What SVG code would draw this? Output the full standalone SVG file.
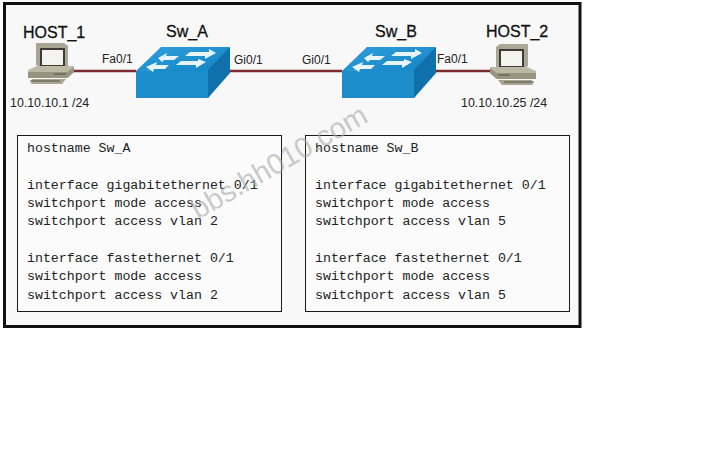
<svg xmlns="http://www.w3.org/2000/svg" width="720" height="450" viewBox="0 0 720 450">
  <style>
    .title { font: 16px "Liberation Sans", Arial, sans-serif; fill: #111; stroke: #111; stroke-width: .3; }
    .port { font: 12px "Liberation Sans", Arial, sans-serif; fill: #222; }
    .addr { font: 12.4px "Liberation Sans", Arial, sans-serif; fill: #222; }
    .cfg { font: 13.25px "Liberation Mono", "Courier New", monospace; fill: #222; }
    .box { fill: #fbfbfb; stroke: #1a1a1a; stroke-width: 1; }
    .link { stroke: #7c2a30; stroke-width: 2.4; fill: none; }
    .mark { font: 29px "Liberation Sans", Arial, sans-serif; fill: #aaa; fill-opacity: .62; }
  </style>
  <defs>
    <linearGradient id="top" x1="0" y1="0" x2="1" y2="1">
      <stop offset="0" stop-color="#2f9fdc"/>
      <stop offset="1" stop-color="#1583c4"/>
    </linearGradient>
    <g id="switch">
      <path d="M0 47 L27 0 L94 0 L94 19 L72 50 L0 50Z" fill="#1a86c4"/>
      <path d="M0 23 L25 -1 L94 -1 L72 22Z" fill="url(#top)"/>
      <path d="M0 23 L72 22 L72 50 L0 50Z" fill="#1c8ccb"/>
      <path d="M72 22 L94 -1 L94 25 L72 50Z" fill="#0f70ab"/>
      <path d="M22 8 L31 3 L30 6 L43 6 L38 10 L28 10 L26 12Z M54 2 L73 2 L73 -1 L80 3 L69 9 L69 6 L49 6Z" fill="#e6f4fb" transform="translate(0 2)"/>
      <path d="M10 17 L21 12 L20 15 L33 15 L29 19 L18 19 L17 22Z M45 11 L62 11 L62 9 L70 12 L60 18 L60 15 L40 15Z" fill="#e6f4fb" transform="translate(0 2)"/>
    </g>
    <g id="pc">
      <path d="M8 0 L36 0 L40 3 L40 24 L12 24 L8 22Z" fill="#a9a695"/>
      <rect x="12" y="5" width="25" height="19" fill="#3d3d35"/>
      <rect x="14" y="7" width="21" height="15" fill="#f4f4ee"/>
      <path d="M0 27 L9 23 L46 23 L46 29 L40 35 L0 35Z" fill="#bcb9a4"/>
      <path d="M0 29 L39 29 L46 24 L46 29 L39 35 L0 35Z" fill="#97947f"/>
      <path d="M4 36 L38 36 L34 41 L3 41Z" fill="#a8a592"/>
      <path d="M2 38 L32 38" stroke="#55544a" stroke-width="1"/>
      <path d="M26 31 L38 31" stroke="#55544a" stroke-width="1"/>
    </g>
  </defs>

  <rect width="720" height="450" fill="#fff"/>
  <rect x="4.5" y="3.5" width="575.5" height="323" fill="#f8f8f8" stroke="#111" stroke-width="3"/>

  <g id="connectors">
    <path class="link" d="M72 71 H136"/>
    <path class="link" d="M230 71 H342"/>
    <path class="link" d="M436 71 H490"/>
  </g>

  <g id="host1">
    <use href="#pc" x="28" y="43"/>
    <text class="title" x="23" y="38">HOST_1</text>
    <text class="addr" x="10" y="107">10.10.10.1 /24</text>
  </g>
  <g id="swa">
    <use href="#switch" x="136" y="48"/>
    <text class="title" x="166" y="37">Sw_A</text>
    <text class="port" x="102" y="63">Fa0/1</text>
    <text class="port" x="234" y="64">Gi0/1</text>
  </g>
  <g id="swb">
    <use href="#switch" x="342" y="48"/>
    <text class="title" x="375" y="37">Sw_B</text>
    <text class="port" x="302" y="64">Gi0/1</text>
    <text class="port" x="437" y="63">Fa0/1</text>
  </g>
  <g id="host2">
    <g transform="translate(536 44) scale(-1 1)"><use href="#pc" x="0" y="0"/></g>
    <text class="title" x="486" y="37">HOST_2</text>
    <text class="addr" x="461" y="107">10.10.10.25 /24</text>
  </g>

  <g id="config-a">
    <rect class="box" x="17.5" y="135.5" width="264" height="176"/>
    <text class="cfg" x="27" y="152">hostname Sw_A</text>
    <text class="cfg" x="27" y="189">interface gigabitethernet 0/1</text>
    <text class="cfg" x="27" y="207">switchport mode access</text>
    <text class="cfg" x="27" y="225">switchport access vlan 2</text>
    <text class="cfg" x="27" y="262">interface fastethernet 0/1</text>
    <text class="cfg" x="27" y="280">switchport mode access</text>
    <text class="cfg" x="27" y="299">switchport access vlan 2</text>
  </g>
  <g id="config-b">
    <rect class="box" x="305.5" y="135.5" width="264" height="176"/>
    <text class="cfg" x="315" y="152">hostname Sw_B</text>
    <text class="cfg" x="315" y="189">interface gigabitethernet 0/1</text>
    <text class="cfg" x="315" y="207">switchport mode access</text>
    <text class="cfg" x="315" y="225">switchport access vlan 5</text>
    <text class="cfg" x="315" y="262">interface fastethernet 0/1</text>
    <text class="cfg" x="315" y="280">switchport mode access</text>
    <text class="cfg" x="315" y="299">switchport access vlan 5</text>
  </g>

  <text class="mark" transform="translate(198 220) rotate(-30)">bbs.hh010.com</text>
</svg>
